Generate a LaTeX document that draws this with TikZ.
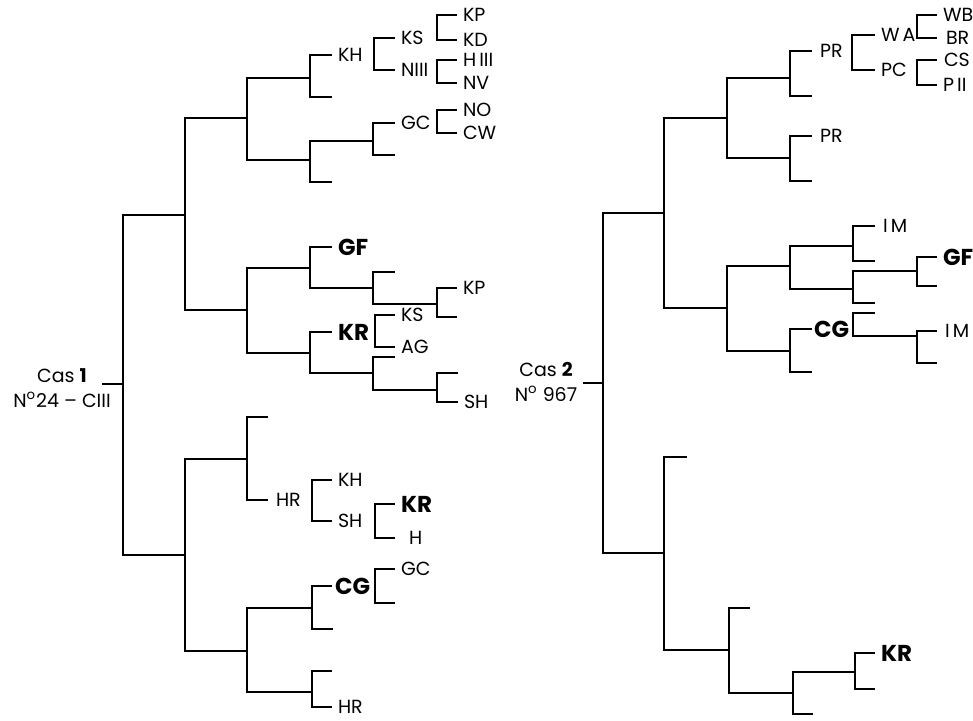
\documentclass[tikz,border=0pt]{standalone}
\usepackage{fontspec}
\setmainfont{Poppins}
\begin{document}
\begin{tikzpicture}[x=0.5pt,y=-0.5pt,line width=1pt,
    leaf/.style={anchor=west,inner xsep=2.5pt,inner ysep=0pt,font=\fontsize{9.5}{10}\selectfont},
    bigleaf/.style={leaf,font=\bfseries\fontsize{11.5}{12}\selectfont},
    caslabel/.style={align=center,inner sep=0pt,font=\fontsize{9.5}{12.5}\selectfont}]
    \useasboundingbox (0,0) rectangle (973,721);

    %Cas 1
    \coordinate (ra) at (123,384);
    \coordinate (ca) at (102,384);
    \node[caslabel] (casa) at (62,388) {Cas \textbf{1}\\N\textsuperscript{o}24 -- CIII};

    \coordinate (a1) at (185,215);
    \coordinate (a2) at (185,555);
    \coordinate (a11) at (247,118);
    \coordinate (a12) at (247,310);
    \coordinate (a111) at (310,78);
    \coordinate (a112) at (310,160);
    \coordinate (a1122) at (373,141);
    \coordinate (a121) at (310,268);
    \coordinate (a122) at (310,353);
    \coordinate (a1212) at (373,288);
    \coordinate (a12122) at (437,304);
    \coordinate (a1222) at (373,373);
    \coordinate (a12222) at (437,390);
    \coordinate (a21) at (247,459);
    \coordinate (a22) at (247,651);
    \coordinate (a221) at (312,608);
    \coordinate (a222) at (312,692);

    %brackets
    \coordinate (kha) at (374,54);
    \coordinate (ksa) at (437,27);
    \coordinate (niiia) at (437,71);
    \coordinate (gca) at (437,121);
    \coordinate (kra) at (375,331);
    \coordinate (hra) at (312,500);
    \coordinate (sha) at (375,521);
    \coordinate (cga) at (375,586);

    %leaves
    \node[leaf] (aKH) at (332,55) {KH};
    \coordinate (e1) at (332,97);
    \node[leaf] (aKS) at (395,38) {KS};
    \node[leaf] (aNIII) at (395,70) {NIII};
    \node[leaf] (aKP) at (457,15) {KP};
    \node[leaf] (aKD) at (457,40) {KD};
    \node[leaf] (aHIII) at (457,60) {H\,III};
    \node[leaf] (aNV) at (457,83) {NV};
    \coordinate (e2) at (332,182);
    \node[leaf] (aGC) at (395,123) {GC};
    \coordinate (e3) at (395,155);
    \node[leaf] (aNO) at (457,110) {NO};
    \node[leaf] (aCW) at (457,133) {CW};
    \node[bigleaf] (aGF) at (332,247) {GF};
    \coordinate (e4) at (395,272);
    \node[leaf] (aKP2) at (457,288) {KP};
    \coordinate (e5) at (457,317);
    \node[bigleaf] (aKR) at (332,332) {KR};
    \node[leaf] (aKS2) at (395,315) {KS};
    \node[leaf] (aAG) at (395,347) {AG};
    \coordinate (e6) at (395,357);
    \coordinate (e7) at (458,373);
    \node[leaf] (aSH) at (458,402) {SH};
    \coordinate (e8) at (268,417);
    \node[leaf,inner xsep=3.5pt] (aHR) at (268,500) {HR};
    \node[leaf] (aKH2) at (332,480) {KH};
    \node[leaf] (aSH2) at (332,521) {SH};
    \node[bigleaf] (aKR2) at (395,504) {KR};
    \node[leaf,inner xsep=6.5pt] (aH) at (395,538) {H};
    \node[bigleaf,inner xsep=1pt] (aCG) at (332,586) {CG};
    \coordinate (e9) at (333,629);
    \node[leaf] (aGC2) at (395,569) {GC};
    \coordinate (e10) at (395,603);
    \coordinate (e11) at (332,671);
    \node[leaf] (aHR2) at (332,707) {HR};

    \draw (ca) -- (ra);
    \draw (ra) |- (a1) (ra) |- (a2);
    \draw (a1) |- (a11) (a1) |- (a12);
    \draw (a11) |- (a111) (a11) |- (a112);
    \draw (a111) |- (aKH.west) (a111) |- (e1);
    \draw (kha) |- (aKS.west) (kha) |- (aNIII.west);
    \draw (ksa) |- (aKP.west) (ksa) |- (aKD.west);
    \draw (niiia) |- (aHIII.west) (niiia) |- (aNV.west);
    \draw (a112) |- (a1122) (a112) |- (e2);
    \draw (a1122) |- (aGC.west) (a1122) |- (e3);
    \draw (gca) |- (aNO.west) (gca) |- (aCW.west);
    \draw (a12) |- (a121) (a12) |- (a122);
    \draw (a121) |- (aGF.west) (a121) |- (a1212);
    \draw (a1212) |- (e4) (a1212) |- (a12122);
    \draw (a12122) |- (aKP2.west) (a12122) |- (e5);
    \draw (a122) |- (aKR.west) (a122) |- (a1222);
    \draw (kra) |- (aKS2.west) (kra) |- (aAG.west);
    \draw (a1222) |- (e6) (a1222) |- (a12222);
    \draw (a12222) |- (e7) (a12222) |- (aSH.west);
    \draw (a2) |- (a21) (a2) |- (a22);
    \draw (a21) |- (e8) (a21) |- (aHR.west);
    \draw (hra) |- (aKH2.west) (hra) |- (aSH2.west);
    \draw (sha) |- (aKR2.west) (sha) |- (aH.west);
    \draw (a22) |- (a221) (a22) |- (a222);
    \draw (a221) |- (aCG.west) (a221) |- (e9);
    \draw (cga) |- (aGC2.west) (cga) |- (e10);
    \draw (a222) |- (e11) (a222) |- (aHR2.west);

    %Cas 2
    \coordinate (rb) at (603,383);
    \coordinate (cb) at (583,383);
    \node[caslabel] (casb) at (546,382) {Cas \textbf{2}\\N\textsuperscript{o} 967};

    \coordinate (b1) at (664,213);
    \coordinate (b2) at (664,553);
    \coordinate (b11) at (727,118);
    \coordinate (b12) at (727,308);
    \coordinate (b111) at (790,78);
    \coordinate (b112) at (790,158);
    \coordinate (b121) at (790,266);
    \coordinate (b122) at (790,351);
    \coordinate (b1211) at (853,246);
    \coordinate (b1212) at (853,289);
    \coordinate (b12121) at (917,271);
    \coordinate (b1222) at (917,336);
    \coordinate (b22) at (729,650);
    \coordinate (b222) at (793,693);
    \coordinate (b2221) at (855,672);

    %brackets
    \coordinate (prb) at (852,52);
    \coordinate (wab) at (917,26);
    \coordinate (pcb) at (917,72);
    \coordinate (cgb) at (853,324);

    %leaves
    \node[leaf,inner xsep=3.5pt] (bPR) at (812,51) {PR};
    \coordinate (f1) at (812,96);
    \node[leaf] (bWA) at (875,35) {W\,A};
    \node[leaf] (bPC) at (875,70) {PC};
    \node[leaf] (bWB) at (937,15) {WB};
    \node[leaf,inner xsep=4pt] (bBR) at (937,38) {BR};
    \node[leaf,inner xsep=3pt] (bCS) at (937,60) {CS};
    \node[leaf] (bPII) at (937,85) {P\,II};
    \node[leaf,inner xsep=3.5pt] (bPR2) at (812,136) {PR};
    \coordinate (f2) at (812,181);
    \node[leaf,inner xsep=3.5pt] (bIM) at (875,226) {I\,M};
    \coordinate (f3) at (875,261);
    \coordinate (f4) at (875,303);
    \node[bigleaf] (bGF) at (937,257) {GF};
    \coordinate (f5) at (937,286);
    \node[bigleaf,inner xsep=0.5pt] (bCG) at (812,329) {CG};
    \coordinate (f6) at (812,372);
    \coordinate (f7) at (875,313);
    \node[leaf,inner xsep=3.5pt] (bIM2) at (937,331) {I\,M};
    \coordinate (f8) at (937,363);
    \coordinate (f9) at (687,457);
    \coordinate (f10) at (750,608);
    \coordinate (f11) at (813,714);
    \node[bigleaf] (bKR) at (875,653) {KR};
    \coordinate (f12) at (875,689);

    \draw (cb) -- (rb);
    \draw (rb) |- (b1) (rb) |- (b2);
    \draw (b1) |- (b11) (b1) |- (b12);
    \draw (b11) |- (b111) (b11) |- (b112);
    \draw (b111) |- (bPR.west) (b111) |- (f1);
    \draw (prb) |- (bWA.west) (prb) |- (bPC.west);
    \draw (wab) |- (bWB.west) (wab) |- (bBR.west);
    \draw (pcb) |- (bCS.west) (pcb) |- (bPII.west);
    \draw (b112) |- (bPR2.west) (b112) |- (f2);
    \draw (b12) |- (b121) (b12) |- (b122);
    \draw (b121) |- (b1211) (b121) |- (b1212);
    \draw (b1211) |- (bIM.west) (b1211) |- (f3);
    \draw (b1212) |- (b12121) (b1212) |- (f4);
    \draw (b12121) |- (bGF.west) (b12121) |- (f5);
    \draw (b122) |- (bCG.west) (b122) |- (f6);
    \draw (cgb) |- (f7) (cgb) |- (b1222);
    \draw (b1222) |- (bIM2.west) (b1222) |- (f8);
    \draw (b2) |- (f9) (b2) |- (b22);
    \draw (b22) |- (f10) (b22) |- (b222);
    \draw (b222) |- (b2221) (b222) |- (f11);
    \draw (b2221) |- (bKR.west) (b2221) |- (f12);
\end{tikzpicture}
\end{document}
